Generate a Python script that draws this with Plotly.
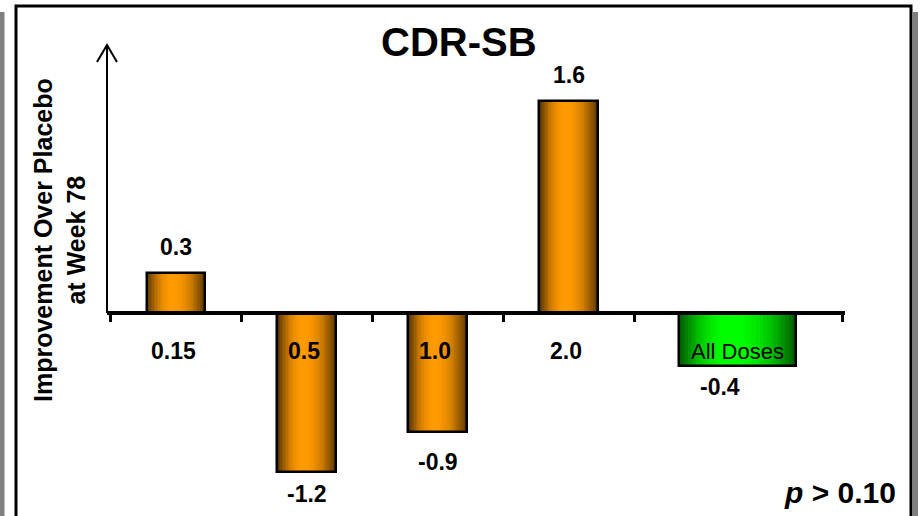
import plotly.graph_objects as go

# ---- data ----
dose_labels = ["0.15", "0.5", "1.0", "2.0"]
dose_values = [0.3, -1.2, -0.9, 1.6]
pooled_label = "All Doses"
pooled_value = -0.4
title_text = "CDR-SB"
y_title = "Improvement Over Placebo<br>at Week 78"
p_text = "<i>p</i> > 0.10"

# ---- geometry ----
W, H = 921, 516
L, R, T, B = 107, 845, 45, 500          # plot area in pixels
x_range = [-0.527, 5.11]
y_range = [-1.411, 2.023]
dose_x = list(range(len(dose_labels)))
pooled_x = 4.29
bar_w = 0.45
pooled_w = 0.89
tick_vals = [-0.5, 0.5, 1.5, 2.5, 3.5, 5.09]


def px_x(px):
    return (px - L) / (R - L)


def px_y(py):
    return (B - py) / (B - T)


def mix(c1, c2, t):
    return "rgb(%d,%d,%d)" % tuple(round(a + (b - a) * t) for a, b in zip(c1, c2))


FONT = "Liberation Sans, Arial, sans-serif"
fig = go.Figure()

# cylinder-like shading built from nested overlaid bars
N = 18


def shaded(xs, ys, width, edge, centre):
    for k in range(N):
        w = width * (1 - k / N)
        t = k / (N - 1)
        col = mix(edge, centre, 1 - (1 - t) ** 2)
        left = -width / 2 + (width - w) * 0.44
        fig.add_trace(go.Bar(
            x=xs, y=ys, width=[w] * len(xs), offset=[left] * len(xs),
            marker=dict(color=col, line=dict(width=0)),
            hoverinfo="skip", showlegend=False))
    fig.add_trace(go.Bar(
        x=xs, y=ys, width=[width] * len(xs),
        marker=dict(color="rgba(0,0,0,0)", line=dict(color="black", width=2.5)),
        hoverinfo="skip", showlegend=False))


shaded(dose_x, dose_values, bar_w, (88, 52, 0), (255, 154, 0))
shaded([pooled_x], [pooled_value], pooled_w, (0, 95, 0), (0, 255, 0))

VAL = dict(size=23, color="black", family=FONT)
ann = []
# value labels
for x, v in zip(dose_x, dose_values):
    ann.append(dict(x=x, y=v, text="<b>%s</b>" % v, showarrow=False,
                    yanchor="bottom" if v > 0 else "top",
                    yshift=11 if v > 0 else (-7 if v < -1 else -15),
                    font=VAL))
ann.append(dict(x=pooled_x, y=pooled_value, text="<b>%s</b>" % pooled_value,
                showarrow=False, yanchor="top", yshift=-6, xshift=-18, font=VAL))
# category labels
for x, c in zip(dose_x, dose_labels):
    ann.append(dict(x=x, y=-0.29, text="<b>%s</b>" % c, showarrow=False,
                    xshift=-3, font=VAL))
ann.append(dict(x=pooled_x, y=-0.29, text=pooled_label, showarrow=False,
                font=dict(size=22, color="black",
                          family="Liberation Sans Narrow, Arial Narrow, sans-serif")))
# titles
ann.append(dict(xref="paper", yref="paper", x=px_x(459), y=px_y(42),
                xanchor="center", yanchor="middle",
                text="<b>%s</b>" % title_text, showarrow=False,
                font=dict(size=40, color="black", family=FONT)))
ann.append(dict(xref="paper", yref="paper", x=px_x(59), y=px_y(240),
                xanchor="center", yanchor="middle",
                text="<b>%s</b>" % y_title, showarrow=False, textangle=-90,
                font=dict(size=25, color="black", family=FONT)))
ann.append(dict(xref="paper", yref="paper", x=px_x(898), y=px_y(492),
                xanchor="right", yanchor="middle", text="<b>%s</b>" % p_text,
                showarrow=False, font=dict(size=30, color="black", family=FONT)))

shapes = [
    # vertical axis with open arrow head
    dict(type="line", xref="paper", yref="paper", x0=0, x1=0,
         y0=(0 - y_range[0]) / (y_range[1] - y_range[0]), y1=1,
         line=dict(color="black", width=2)),
    dict(type="path", xref="paper", yref="paper", xsizemode="pixel", ysizemode="pixel",
         xanchor=0, yanchor=1,
         path="M -10,-17 L 0,0 L 10,-17", line=dict(color="black", width=2)),
    # slide frame and its shadow
    dict(type="rect", xref="paper", yref="paper", x0=px_x(0), x1=px_x(4.5),
         y0=px_y(530), y1=px_y(12), fillcolor="#808080", line=dict(width=0), layer="below"),
    dict(type="rect", xref="paper", yref="paper", x0=px_x(913), x1=px_x(918),
         y0=px_y(530), y1=px_y(12), fillcolor="#808080", line=dict(width=0), layer="below"),
    dict(type="rect", xref="paper", yref="paper", x0=px_x(16), x1=px_x(911),
         y0=px_y(540), y1=px_y(6), line=dict(color="black", width=3)),
]

fig.update_layout(
    width=W, height=H, barmode="overlay", bargap=0,
    margin=dict(l=L, r=W - R, t=T, b=H - B),
    paper_bgcolor="white", plot_bgcolor="white",
    annotations=ann, shapes=shapes, showlegend=False,
    xaxis=dict(range=x_range, anchor="free", position=(0 - y_range[0]) / (y_range[1] - y_range[0]),
               showline=True, linecolor="black", linewidth=3.5,
               ticks="outside", tickvals=tick_vals, ticklen=7, tickwidth=3, tickcolor="black",
               showticklabels=False, showgrid=False, zeroline=False, fixedrange=True),
    yaxis=dict(range=y_range, visible=False, showgrid=False, zeroline=False, fixedrange=True),
)

fig.write_html("out.html")
